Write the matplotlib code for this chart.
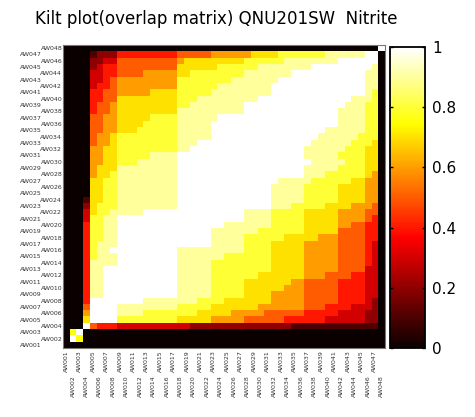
import matplotlib
matplotlib.use("Agg")
import matplotlib.pyplot as plt
import numpy as np

plt.rcParams['font.family'] = ['DejaVu Sans']

title_text = "Kilt plot(overlap matrix) QNU201SW  Nitrite"

sample_labels = [
    "AW001", "AW002", "AW003", "AW004", "AW005", "AW006", "AW007", "AW008",
    "AW009", "AW010", "AW011", "AW012", "AW013", "AW014", "AW015", "AW016",
    "AW017", "AW018", "AW019", "AW020", "AW021", "AW022", "AW023", "AW024",
    "AW025", "AW026", "AW027", "AW028", "AW029", "AW030", "AW031", "AW032",
    "AW033", "AW034", "AW035", "AW036", "AW037", "AW038", "AW039", "AW040",
    "AW041", "AW042", "AW043", "AW044", "AW045", "AW046", "AW047", "AW048",
]

# value codes: digit d -> d/10, 'W' -> 1.0, 'y' -> 0.75 (spaces only for readability)
level_codes = {'0': 0.0, '1': 0.1, '2': 0.2, '3': 0.3, '4': 0.4, '5': 0.5,
               '6': 0.6, '7': 0.7, '8': 0.8, '9': 0.9, 'W': 1.0, 'y': 0.75}

# overlap matrix, rows listed from the top row (sample 48) down to the bottom row (sample 1)
overlap_rows_top_down = [
    "0 00 0 00 00 000000000 00000 00000 0000 00000 00000 0000 00 W",
    "0 00 0 12 22 444444444 55555 66666 6777 78888 88899 9999 WW 0",
    "0 00 0 22 33 555555555 67777 77777 8888 88999 99999 WWWW WW 0",
    "0 00 0 23 44 555555555 77777 78888 8899 99999 9WWWW WWWW W9 0",
    "0 00 0 33 44 555566666 77888 88888 9999 999WW WWWWW WWWW 99 0",
    "0 00 0 33 45 666666666 88888 88899 9999 9WWWW WWWWW WWWW 99 0",
    "0 00 0 34 45 666666666 88888 89999 9999 WWWWW WWWWW WWWW 99 0",
    "0 00 0 44 55 666667777 88888 99999 9999 WWWWW WWWWW WWWW 98 0",
    "0 00 0 44 55 777777777 88899 99999 99WW WWWWW WWWWW WW99 98 0",
    "0 00 0 45 56 777777777 88999 99999 WWWW WWWWW WWWWW W999 88 0",
    "0 00 0 45 56 777777777 99999 99999 WWWW WWWWW WWWWW 9999 88 0",
    "0 00 0 55 66 777778888 99999 9WWWW WWWW WWWWW WWWWW 9999 88 0",
    "0 00 0 55 66 777788888 99999 WWWWW WWWW WWWWW WWWWW 9999 88 0",
    "0 00 0 55 66 777888888 99999 WWWWW WWWW WWWWW WWW99 9999 88 0",
    "0 00 0 56 67 888888888 99999 WWWWW WWWW WWWWW WW999 9998 88 0",
    "0 00 0 56 67 888888888 999WW WWWWW WWWW WWWWW W9999 9988 87 0",
    "0 00 0 66 77 888888888 99WWW WWWWW WWWW WWWWW 99999 9888 77 0",
    "0 00 0 66 77 888889999 WWWWW WWWWW WWWW WWWWW 99999 8888 77 0",
    "0 00 0 66 77 888999999 WWWWW WWWWW WWWW WWWWW W9999 9888 77 0",
    "0 00 0 67 77 999999999 WWWWW WWWWW WWWW WWWWW 99999 8888 77 0",
    "0 00 0 67 78 999999999 WWWWW WWWWW WWWW WWWWW 99988 8888 76 0",
    "0 00 0 77 88 999999999 WWWWW WWWWW WWWW W9999 98888 8877 66 0",
    "0 00 0 77 88 999999999 WWWWW WWWWW WWWW 99999 88888 7777 66 0",
    "0 00 0 77 88 999999999 WWWWW WWWWW WWWW 99999 88888 7777 66 0",
    "0 00 1 77 88 999999999 WWWWW WWWWW WWWW 99999 88888 7777 66 0",
    "0 00 2 78 88 999999999 WWWWW WWWWW WWWW 99988 88877 7766 65 0",
    "0 00 3 78 89 9999WWWWW WWWWW WWWWW 9999 88888 77777 6666 55 0",
    "0 00 3 88 99 WWWWWWWWW WWWWW WWWWW 9999 88888 77777 6666 54 0",
    "0 00 4 88 99 WWWWWWWWW WWWWW WW999 9999 88888 77777 6655 44 0",
    "0 00 4 88 99 WWWWWWWWW WWWWW 99999 9988 88888 77777 5555 44 0",
    "0 00 4 88 99 WWWWWWWWW WWWWW 99999 8888 88777 77666 5555 44 0",
    "0 00 4 89 99 WWWWWWWWW WWWWW 99999 8888 77777 66666 5555 43 0",
    "0 00 4 89 9W WWWWWWWWW 99999 99999 8888 77777 66666 5555 43 0",
    "0 00 4 89 99 WWWWWWWWW 99999 99888 8888 77777 66666 5555 43 0",
    "0 00 4 99 99 WWWWWWWWW 99999 88888 8888 77777 66666 5555 43 0",
    "0 00 4 99 WW WWWWWWWWW 99999 88888 8888 77777 66666 5555 33 0",
    "0 00 4 99 WW WWWWWWWWW 99999 88888 8877 77777 66655 5544 33 0",
    "0 00 4 99 WW WWWWWWWWW 99999 88888 7777 77766 55555 4444 33 0",
    "0 00 4 99 WW WWWWWWWWW 99999 88888 7777 77666 55555 4444 33 0",
    "0 00 4 99 WW WWWWWWWWW 99999 88888 7777 66666 55555 4444 33 0",
    "0 00 4 WW WW WWWW99999 99988 88777 7777 66666 55555 4444 32 0",
    "0 00 5 WW WW 999999999 88888 77777 7766 66666 55544 4433 32 0",
    "0 00 6 WW WW 999988888 88877 77766 6665 55555 44444 3333 22 0",
    "0 00 7 WW WW 888888888 77777 66666 5555 55444 44433 3333 22 0",
    "0 00 W 54 44 333333333 33222 22222 2222 22211 11111 1111 11 0",
    "0 yW 0 00 00 000000000 00000 00000 0000 00000 00000 0000 00 0",
    "0 Wy 0 00 00 000000000 00000 00000 0000 00000 00000 0000 00 0",
    "0 00 0 00 00 000000000 00000 00000 0000 00000 00000 0000 00 0",
]

cbar_ticks = [0, 0.2, 0.4, 0.6, 0.8, 1]
cbar_ticklabels = ["0", "0.2", "0.4", "0.6", "0.8", "1"]

n = len(sample_labels)
rows = []
for r in overlap_rows_top_down:
    s = r.replace(" ", "")
    if len(s) != n:
        raise ValueError("row length %d: %s" % (len(s), r))
    rows.append([level_codes[c] for c in s])
M = np.array(rows[::-1])  # index 0 at the bottom

fig = plt.figure(figsize=(4.75, 4.17), dpi=100)
W, H = 475, 417
ax = fig.add_axes([63 / W, 1 - 348 / H, 322 / W, 303 / H])
im = ax.imshow(M, cmap='hot', vmin=0, vmax=1, origin='lower', aspect='auto',
               interpolation='nearest', extent=(-0.5, n - 0.5, -0.5, n - 0.5))

ax.set_xticks(np.arange(n))
ax.set_xticklabels(sample_labels, rotation=90, fontsize=4.5)
ax.set_yticks(np.arange(n))
ax.set_yticklabels(sample_labels, fontsize=4.5)
ax.tick_params(length=0)
for k, t in enumerate(ax.xaxis.get_major_ticks()):
    t.set_pad(1.5 if k % 2 == 0 else 19.5)
for k, t in enumerate(ax.yaxis.get_major_ticks()):
    t.set_pad(15.5 if k % 2 == 0 else 0.5)
for lab in ax.get_xticklabels() + ax.get_yticklabels():
    lab.set_color('#333333')
for sp in ax.spines.values():
    sp.set_color('#777777')
    sp.set_linewidth(0.8)

cax = fig.add_axes([390 / W, 1 - 348 / H, 35 / W, 301 / H])
cb = fig.colorbar(im, cax=cax, ticks=cbar_ticks)
cb.ax.set_yticklabels(cbar_ticklabels)
cb.ax.tick_params(direction='in', left=True, right=True, length=2.5, width=1.0,
                  labelsize=11, pad=5, colors='black')
cb.outline.set_linewidth(1.3)
cb.outline.set_edgecolor('black')

fig.text(216 / W, 1 - 24 / H, title_text, fontsize=12, ha='center', va='baseline',
         color='black')

fig.savefig("out.png", dpi=100)
